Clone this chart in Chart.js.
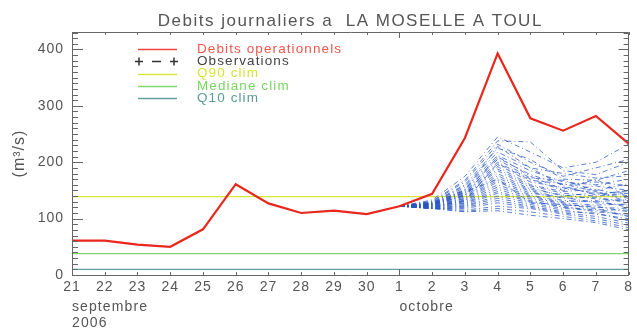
<!DOCTYPE html>
<html>
<head>
<meta charset="utf-8">
<script src="https://cdn.jsdelivr.net/npm/chart.js@4.4.0/dist/chart.umd.min.js"></script>
<style>
  html, body { margin: 0; padding: 0; background: #fff; overflow: hidden; }
  #wrap { width: 637px; height: 332px; }
</style>
</head>
<body>
<div id="wrap"><canvas id="chart"></canvas></div>
<script>
// jours du 21 septembre au 8 octobre 2006
const days = ['21', '22', '23', '24', '25', '26', '27', '28', '29', '30',
              '1', '2', '3', '4', '5', '6', '7', '8'];
const forecastDays = ['1', '2', '3', '4', '5', '6', '7', '8'];
const monthLabels = [['21', 'septembre'], ['1', 'octobre']];
const yearLabel = '2006';

// debits operationnels (m3/s)
const debitsOperationnels = [61, 61, 54, 50, 81, 161, 127, 110, 114, 108,
                             122, 144, 243, 393, 278, 256, 282, 233];
const observations = [];

// seuils climatologiques
const q90Clim = 139;
const medianeClim = 38;
const q10Clim = 10;

const yTicks = [0, 100, 200, 300, 400];
const yMax = 431;

// previsions d'ensemble, du 1 au 8 octobre
const ensemble = [
  [122, 133, 175, 245, 218, 190, 200, 232],
  [122, 131, 168, 238, 236, 185, 178, 200],
  [122, 130, 165, 232, 200, 175, 190, 205],
  [122, 129, 160, 225, 205, 170, 168, 185],
  [122, 128, 158, 218, 190, 180, 172, 176],
  [122, 128, 155, 212, 185, 165, 160, 170],
  [122, 127, 152, 208, 178, 160, 165, 158],
  [122, 127, 150, 205, 172, 168, 150, 162],
  [122, 126, 148, 200, 170, 150, 158, 150],
  [122, 126, 146, 196, 165, 155, 145, 148],
  [122, 125, 145, 192, 160, 148, 152, 140],
  [122, 125, 143, 188, 158, 145, 140, 145],
  [122, 124, 142, 185, 155, 140, 146, 136],
  [122, 124, 140, 180, 152, 142, 135, 132],
  [122, 123, 138, 176, 150, 136, 138, 128],
  [122, 123, 136, 172, 148, 132, 130, 134],
  [122, 122, 135, 168, 145, 138, 128, 124],
  [122, 122, 133, 165, 142, 130, 132, 120],
  [122, 121, 132, 160, 140, 128, 124, 126],
  [122, 121, 130, 156, 138, 126, 120, 118],
  [122, 120, 128, 152, 135, 124, 122, 112],
  [122, 120, 127, 148, 132, 120, 116, 115],
  [122, 119, 125, 145, 130, 122, 112, 108],
  [122, 119, 123, 140, 128, 118, 115, 104],
  [122, 118, 122, 136, 125, 115, 108, 100],
  [122, 118, 120, 132, 122, 112, 110, 96],
  [122, 118, 118, 128, 120, 110, 104, 92],
  [122, 119, 115, 122, 118, 108, 100, 88],
  [122, 118, 113, 118, 112, 104, 96, 84],
  [122, 118, 112, 114, 106, 100, 93, 80],
  [122, 127, 150, 228, 190, 158, 142, 150],
  [122, 124, 141, 210, 175, 152, 170, 138],
  [122, 121, 131, 198, 168, 162, 148, 130],
  [122, 125, 147, 170, 128, 125, 118, 104]
];

const axisColor = '#666666';
const textColor = '#555555';
const fontFamily = '"Liberation Sans", Arial, sans-serif';

function climLine(label, value, color, textCol) {
  return {
    label: label,
    data: [{x: days[0], y: value}, {x: days[days.length - 1], y: value}],
    borderColor: color,
    legendLine: color,
    legendText: textCol,
    borderWidth: 1.2,
    pointRadius: 0,
    order: 3
  };
}

const datasets = [
  {
    label: 'Debits operationnels',
    data: debitsOperationnels,
    borderColor: '#e8281c',
    legendLine: 'rgb(240, 70, 60)',
    legendText: '#f0564c',
    borderWidth: 2.2,
    pointRadius: 0,
    tension: 0,
    order: 0
  },
  {
    label: 'Observations',
    data: observations,
    borderColor: '#222222',
    legendLine: '#333333',
    legendText: '#444444',
    borderWidth: 1,
    borderDash: [6, 4],
    pointStyle: 'cross',
    pointRadius: 4,
    order: 1
  },
  climLine('Q90 clim', q90Clim, '#d6e63a', '#d4e63a'),
  climLine('Mediane clim', medianeClim, '#80d66a', '#78d660'),
  climLine('Q10 clim', q10Clim, '#5fa39c', '#5a9c96')
];

ensemble.forEach((member, i) => {
  datasets.push({
    label: 'membre ' + (i + 1),
    data: member.map((v, k) => ({x: forecastDays[k], y: v})),
    borderColor: 'rgba(40, 86, 196, 0.75)',
    borderWidth: 1,
    borderDash: [5, 3, 1, 3],
    pointRadius: 0,
    tension: 0,
    order: 2,
    isMember: true
  });
});

// police espacee pour tous les textes
const spacingPlugin = {
  id: 'spacing',
  beforeLayout(chart) { chart.ctx.letterSpacing = '1px'; },
  beforeDraw(chart) { chart.ctx.letterSpacing = '1px'; }
};

// cadre et graduations vers l'interieur
const framePlugin = {
  id: 'frame',
  afterDatasetsDraw(chart) {
    const {ctx, chartArea: a, scales} = chart;
    const x = scales.x, y = scales.y;
    ctx.save();
    ctx.strokeStyle = axisColor;
    ctx.lineWidth = 1;
    ctx.setLineDash([]);
    ctx.beginPath();
    ctx.rect(Math.round(a.left) + 0.5, Math.round(a.top) + 0.5,
             Math.round(a.right - a.left) - 1, Math.round(a.bottom - a.top));
    for (let v = 0; v <= yMax; v += 10) {
      const py = Math.round(y.getPixelForValue(v)) + 0.5;
      const major = yTicks.includes(v);
      ctx.moveTo(a.left, py); ctx.lineTo(a.left + (major ? 11 : 6), py);
      ctx.moveTo(a.right, py); ctx.lineTo(a.right - (major ? 10 : 5), py);
    }
    days.forEach((d, i) => {
      const px = Math.round(x.getPixelForValue(i)) + 0.5;
      const len = d === '1' ? 6 : 3;
      ctx.moveTo(px, a.bottom); ctx.lineTo(px, a.bottom - len);
      ctx.moveTo(px, a.top); ctx.lineTo(px, a.top + len);
    });
    ctx.stroke();

    // mois et annee sous les jours
    ctx.fillStyle = textColor;
    ctx.letterSpacing = '1.1px';
    ctx.font = '14px ' + fontFamily;
    ctx.textAlign = 'left';
    ctx.textBaseline = 'middle';
    monthLabels.forEach(([d, m]) => {
      ctx.fillText(m, x.getPixelForValue(days.indexOf(d)), 307);
    });
    ctx.fillText(yearLabel, x.getPixelForValue(0), 323);

    // titre
    ctx.letterSpacing = '1.5px';
    ctx.font = '17px ' + fontFamily;
    ctx.textAlign = 'center';
    ctx.textBaseline = 'alphabetic';
    ctx.fillText('Debits journaliers a  LA MOSELLE A TOUL', (a.left + a.right) / 2, 25.5);

    // legende
    ctx.letterSpacing = '1.1px';
    ctx.font = '13.5px ' + fontFamily;
    ctx.textBaseline = 'middle';
    ctx.textAlign = 'left';
    const rowY = [49, 61, 73.5, 86, 98];
    chart.data.datasets.filter(ds => !ds.isMember).forEach((ds, i) => {
      const ly = Math.round(rowY[i]) + 0.5;
      ctx.strokeStyle = ds.legendLine || ds.borderColor;
      ctx.lineWidth = 1.5;
      ctx.beginPath();
      if (ds.pointStyle === 'cross') {
        [139, 174].forEach(cx => {
          ctx.moveTo(cx - 4, ly); ctx.lineTo(cx + 4, ly);
          ctx.moveTo(cx, ly - 4); ctx.lineTo(cx, ly + 4);
        });
        ctx.moveTo(152, ly); ctx.lineTo(161, ly);
      } else {
        ctx.moveTo(138, ly); ctx.lineTo(177, ly);
      }
      ctx.stroke();
      ctx.fillStyle = ds.legendText;
      ctx.fillText(ds.label, 197, rowY[i]);
    });
    ctx.restore();
  }
};

new Chart(document.getElementById('chart'), {
  type: 'line',
  data: { labels: days, datasets: datasets },
  options: {
    responsive: true,
    maintainAspectRatio: false,
    animation: false,
    layout: { padding: { top: 32, right: 1, left: 0, bottom: 0 } },
    plugins: {
      legend: { display: false },
      title: { display: false },
      tooltip: { enabled: false }
    },
    scales: {
      x: {
        type: 'category',
        offset: false,
        grid: { display: false, drawTicks: false },
        border: { display: false },
        ticks: {
          color: textColor,
          font: { family: fontFamily, size: 14 },
          autoSkip: false,
          maxRotation: 0,
          padding: 4
        },
        afterFit(scale) { scale.height = 57; }
      },
      y: {
        min: 0,
        max: yMax,
        grid: { display: false, drawTicks: false },
        border: { display: false },
        afterBuildTicks(scale) { scale.ticks = yTicks.map(v => ({value: v})); },
        ticks: {
          color: textColor,
          font: { family: fontFamily, size: 14 },
          padding: 8
        },
        title: {
          display: true,
          text: '(m³/s)',
          color: textColor,
          font: { family: fontFamily, size: 16 },
          padding: { top: 10, bottom: 0 }
        },
        afterFit(scale) { scale.width = 72; }
      }
    }
  },
  plugins: [spacingPlugin, framePlugin]
});
</script>
</body>
</html>
